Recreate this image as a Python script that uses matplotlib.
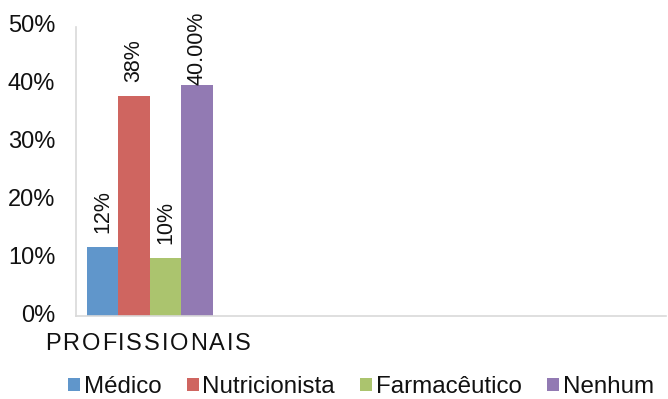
import matplotlib
matplotlib.use("Agg")
import matplotlib.pyplot as plt
import matplotlib.transforms as mtransforms
from matplotlib.ticker import PercentFormatter
import numpy as np

plt.rcParams['font.family'] = ['Liberation Sans', 'DejaVu Sans']

# data
series = ["Médico", "Nutricionista", "Farmacêutico", "Nenhum"]
values = [12, 38, 10, 40]
value_labels = ["12%", "38%", "10%", "40.00%"]
colors = ["#6096CB", "#CF6560", "#ABC46E", "#927AB3"]
category = "PROFISSIONAIS"
n_slots = 4  # chart area is laid out for 4 category slots, only first used

fig = plt.figure(figsize=(6.68, 3.99), dpi=100)
ax = fig.add_axes([76 / 668, 1 - 316 / 399, 590 / 668, 289 / 399])

w = 0.2136
offsets = (np.arange(len(series)) - 1.5) * w
for i, (name, v, c) in enumerate(zip(series, values, colors)):
    ax.bar(offsets[i], v, width=w, color=c, label=name, zorder=2)
    if v > 39:
        # label would run off the top, excel pushes it down
        ax.text(offsets[i], 52.6, value_labels[i], rotation=90, ha='center',
                va='top', fontsize=15.5, color='#111111', clip_on=False)
    else:
        ax.annotate(value_labels[i], (offsets[i], v), xytext=(0, 10),
                    textcoords='offset points', rotation=90, ha='center',
                    va='bottom', fontsize=15.5, color='#111111')

ax.set_xlim(-0.5, n_slots - 0.5)
ax.set_ylim(0, 50)
ax.set_yticks(range(0, 51, 10))
ax.yaxis.set_major_formatter(PercentFormatter(decimals=0))
ax.tick_params(axis='y', length=0, labelsize=17, pad=15, colors='#111111')
# nudge tick labels up a bit like in the original
shift = mtransforms.ScaledTranslation(0, 3 / 100, fig.dpi_scale_trans)
for lbl in ax.get_yticklabels():
    lbl.set_transform(lbl.get_transform() + shift)
ax.set_xticks([])
for s in ['top', 'right']:
    ax.spines[s].set_visible(False)
ax.spines['left'].set_color('#D9D9D9')
ax.spines['bottom'].set_color('#D9D9D9')
ax.spines['left'].set_linewidth(1.2)
ax.spines['bottom'].set_linewidth(1.2)

# category label with wide letter spacing
fig.canvas.draw()
renderer = fig.canvas.get_renderer()
x_px = 45
for ch in category:
    t = fig.text(x_px / 668, 1 - 344 / 399, ch, fontsize=17,
                 va='center', ha='left', color='#111111')
    x_px += t.get_window_extent(renderer).width + 1.9

leg = fig.legend(loc='center', bbox_to_anchor=(361 / 668, 1 - 387 / 399), ncol=4,
                 frameon=False, fontsize=17.4, handlelength=0.5, handleheight=0.5,
                 handletextpad=0.15, columnspacing=1.05, borderpad=0)
for txt in leg.get_texts():
    txt.set_color('#111111')

fig.savefig("out.png", dpi=100)
